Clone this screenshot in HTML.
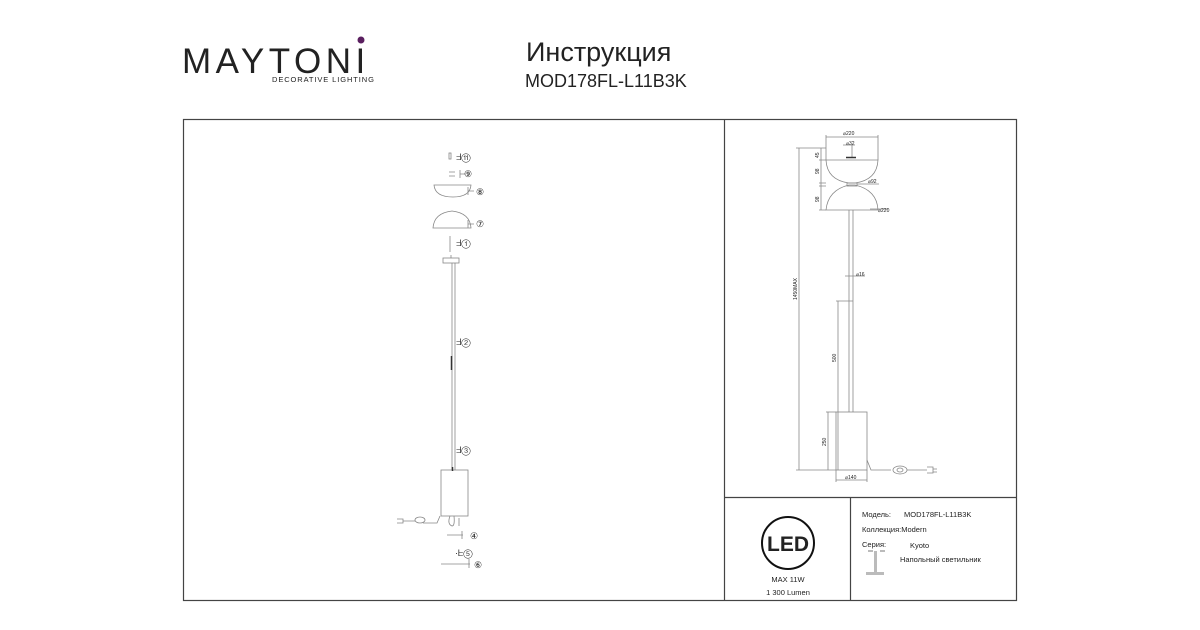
<!DOCTYPE html>
<html><head><meta charset="utf-8"><style>
body{margin:0;background:#fff;}
svg{display:block}
text{font-family:"Liberation Sans",sans-serif;fill:#222}
</style></head><body>
<svg width="1200" height="630" viewBox="0 0 1200 630" xmlns="http://www.w3.org/2000/svg">
<!-- header -->
<text x="182" y="73" font-size="35" fill="#2a2a2a" style="letter-spacing:4.5px">MAYTONI</text>
<circle cx="361" cy="40" r="3.5" fill="#5a1f5f"/>
<text x="272" y="82" font-size="7.5" fill="#555" style="letter-spacing:0.9px">DECORATIVE LIGHTING</text>
<text x="526" y="61" font-size="27" fill="#222">Инструкция</text>
<text x="525" y="87" font-size="18" fill="#222">MOD178FL-L11B3K</text>
<!-- frames -->
<g fill="none" stroke="#444" stroke-width="1.2">
<rect x="183.5" y="119.5" width="833" height="481"/>
<line x1="724.5" y1="119" x2="724.5" y2="600"/>
<line x1="724" y1="497.5" x2="1017" y2="497.5"/>
<line x1="850.5" y1="497" x2="850.5" y2="600"/>
</g>
<!-- left exploded drawing -->
<g fill="none" stroke="#888" stroke-width="0.8">
<rect x="449" y="153" width="2" height="6"/>
<path d="M449 172h6M449 176h6M460 170v8M460 174h6"/>
<path d="M434 185h37q-1 12-18 12q-18 0-19-12z"/>
<path d="M468 187v8M468 191h6"/>
<path d="M433 228q1-15 19-17q18 2 19 17z"/>
<path d="M468 220v8M468 224h6"/>
<line x1="450" y1="236" x2="450" y2="252"/>
<rect x="443" y="258" width="16" height="5"/>
<line x1="451" y1="255" x2="451" y2="258"/>
<line x1="452" y1="263" x2="452" y2="470"/>
<line x1="455" y1="263" x2="455" y2="470"/>
<rect x="441" y="470" width="27" height="46"/>
<path d="M450 516q-3 8 2 10q3 0 2-10M459 518v8"/>
<path d="M440 516l-3 7h-14"/>
<ellipse cx="420" cy="520" rx="5" ry="3"/>
<path d="M415 521h-12M397 519h6v4h-6"/>
<path d="M447 535h16M462 531v8"/>
<path d="M441 564h29M469 559v9"/>
</g>
<line x1="451.5" y1="356" x2="451.5" y2="370" stroke="#333" stroke-width="1.5"/>
<line x1="452.5" y1="467" x2="452.5" y2="471" stroke="#333" stroke-width="1.5"/>
<g font-size="9" fill="#555">
<text x="456" y="160">ᖵ⑪</text>
<text x="464" y="177">⑨</text>
<text x="476" y="195">⑧</text>
<text x="476" y="227">⑦</text>
<text x="456" y="246">ᖵ①</text>
<text x="456" y="345">ᖵ②</text>
<text x="456" y="453">ᖵ③</text>
<text x="470" y="539">④</text>
<text x="455" y="556">·ᖶ⑤</text>
<text x="474" y="568">⑥</text>
</g>
<!-- right dimensioned drawing -->
<g fill="none" stroke="#888" stroke-width="0.8">
<path d="M826 160h52q-1 20-23 23h-6q-22-3-23-23z"/>
<path d="M826 210q2-20 23-25h6q22 5 23 25z"/>
<rect x="847" y="183" width="10" height="3"/>
<line x1="849" y1="210" x2="849" y2="412"/>
<line x1="853" y1="210" x2="853" y2="412"/>
<rect x="836" y="412" width="31" height="58"/>
<path d="M867 460l4 10h20"/>
<ellipse cx="900" cy="470" rx="7" ry="4"/>
<ellipse cx="900" cy="470" rx="3" ry="2"/>
<path d="M907 470h20M927 467h6v6h-6M933 469h4M933 472h4"/>
<line x1="799" y1="148" x2="799" y2="470"/>
<line x1="796" y1="148" x2="826" y2="148"/>
<line x1="796" y1="470" x2="836" y2="470"/>
<path d="M826 137h52M826 135v25M878 135v25"/>
<path d="M843 145h12M852 145v12"/>
<path d="M821 148v62M819 160h7M819 183h7M819 186h7M819 210h7"/>
<line x1="838" y1="301" x2="838" y2="470"/>
<line x1="836" y1="301" x2="853" y2="301"/>
<line x1="828" y1="412" x2="828" y2="470"/>
<line x1="826" y1="412" x2="836" y2="412"/>
<path d="M836 470v12M867 470v12M836 480h31"/>
<path d="M857 184h22M870 209h18M845 276h20"/>
</g>
<line x1="846" y1="157.5" x2="856" y2="157.5" stroke="#333" stroke-width="1.5"/>
<g font-size="5" fill="#555">
<text x="843" y="135">⌀220</text>
<text x="846" y="145">⌀32</text>
<text x="868" y="183">⌀92</text>
<text x="878" y="212">⌀220</text>
<text x="856" y="276">⌀16</text>
<text x="845" y="479">⌀140</text>
<text transform="translate(797,300) rotate(-90)">1450MAX</text>
<text transform="translate(836,362) rotate(-90)">500</text>
<text transform="translate(826,446) rotate(-90)">250</text>
<text transform="translate(819,158) rotate(-90)">45</text>
<text transform="translate(819,174) rotate(-90)">98</text>
<text transform="translate(819,202) rotate(-90)">98</text>
</g>
<!-- LED block -->
<circle cx="788" cy="543" r="26" fill="none" stroke="#111" stroke-width="2"/>
<text x="788" y="551" font-size="21" font-weight="bold" text-anchor="middle" fill="#111">LED</text>
<text x="788" y="582" font-size="7.5" text-anchor="middle">MAX 11W</text>
<text x="788" y="595" font-size="7.5" text-anchor="middle">1 300 Lumen</text>
<!-- info -->
<g font-size="7.5" fill="#333">
<text x="862" y="517">Модель:</text>
<text x="904" y="517">MOD178FL-L11B3K</text>
<text x="862" y="532">Коллекция:Modern</text>
<text x="862" y="547">Серия:</text>
<text x="910" y="548">Kyoto</text>
<text x="900" y="562">Напольный светильник</text>
</g>
<g fill="#bbb">
<rect x="874" y="551" width="3" height="22"/>
<rect x="866" y="572" width="18" height="3"/>
<rect x="868" y="550" width="5" height="2"/>
<rect x="880" y="550" width="5" height="2"/>
</g>
</svg>
</body></html>
